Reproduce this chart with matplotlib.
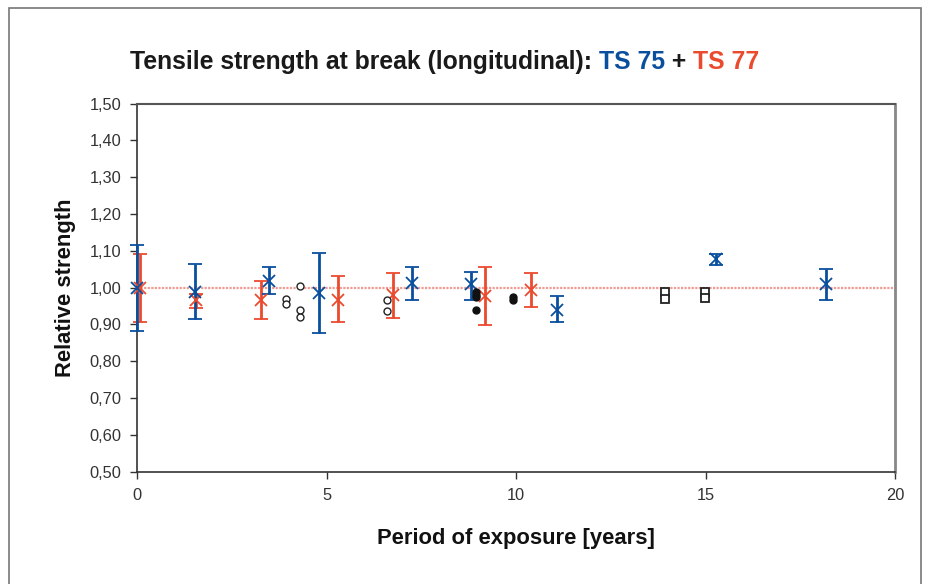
import matplotlib
matplotlib.use("Agg")
import matplotlib.pyplot as plt
from matplotlib.ticker import FuncFormatter, MultipleLocator
from matplotlib.patches import Rectangle

plt.rcParams['font.family'] = ['Liberation Sans', 'DejaVu Sans']

# TS 75 (blue) : x, mean, upper, lower
ts75_x = [0.0, 1.54, 3.49, 4.80, 7.25, 8.82, 11.07, 15.29, 18.17]
ts75_y = [1.000, 0.989, 1.019, 0.986, 1.013, 1.010, 0.938, 1.078, 1.010]
ts75_hi = [1.115, 1.065, 1.055, 1.095, 1.055, 1.043, 0.976, 1.092, 1.049]
ts75_lo = [0.881, 0.914, 0.983, 0.876, 0.967, 0.967, 0.905, 1.062, 0.965]

# TS 77 (red)
ts77_x = [0.08, 1.55, 3.26, 5.30, 6.76, 9.17, 10.40]
ts77_y = [1.000, 0.965, 0.965, 0.967, 0.980, 0.978, 0.994]
ts77_hi = [1.090, 0.983, 1.017, 1.031, 1.039, 1.055, 1.039]
ts77_lo = [0.906, 0.944, 0.914, 0.906, 0.917, 0.897, 0.948]

# single samples
open_circ_x = [3.94, 3.94, 4.30, 4.30, 4.30, 6.60, 6.60]
open_circ_y = [0.969, 0.955, 1.003, 0.940, 0.919, 0.965, 0.935]
fill_circ_x = [8.95, 8.95, 8.95, 8.95, 9.93, 9.93]
fill_circ_y = [0.987, 0.980, 0.974, 0.938, 0.975, 0.965]
open_sq_x = [13.94, 13.94, 14.98, 14.98]
open_sq_y = [0.988, 0.970, 0.989, 0.972]

BLUE = '#0a4f9e'
RED = '#ea4a2e'

fig = plt.figure(figsize=(9.36, 5.84), dpi=100)
fig.patch.set_facecolor('white')
fig.patches.append(Rectangle((9 / 936, -0.05), (921 - 9) / 936, 1.05 - 8 / 584,
                             transform=fig.transFigure, fill=False,
                             edgecolor='#777777', linewidth=1.2))

ax = fig.add_axes([137 / 936, 1 - 471.5 / 584, (895 - 137) / 936, (471.5 - 103.5) / 584])
ax.set_xlim(0, 20)
ax.set_ylim(0.5, 1.5)

ax.axhline(1.0, color='#f19a92', linestyle=(0, (1, 0.6)), linewidth=1.6, zorder=1)

def draw_series(xs, ys, hi, lo, color):
    yerr = [[y - l for y, l in zip(ys, lo)], [h - y for y, h in zip(ys, hi)]]
    ax.errorbar(xs, ys, yerr=yerr, fmt='x', color=color, ecolor=color,
                elinewidth=2.0, capsize=5, capthick=2.0, markersize=8.5,
                markeredgewidth=1.3, clip_on=False, zorder=3)

draw_series(ts77_x, ts77_y, ts77_hi, ts77_lo, RED)
draw_series(ts75_x, ts75_y, ts75_hi, ts75_lo, BLUE)

ax.plot(open_circ_x, open_circ_y, 'o', mfc='white', mec='#222222', ms=5, mew=1.0, ls='none', zorder=4)
ax.plot(fill_circ_x, fill_circ_y, 'o', mfc='#111111', mec='#111111', ms=5, ls='none', zorder=4)
ax.plot(open_sq_x, open_sq_y, 's', mfc='white', mec='#222222', ms=6, mew=1.3, ls='none', zorder=4)

ax.yaxis.set_major_locator(MultipleLocator(0.1))
ax.xaxis.set_major_locator(MultipleLocator(5))
ax.yaxis.set_major_formatter(FuncFormatter(lambda v, p: f"{v:.2f}".replace('.', ',')))
ax.tick_params(axis='both', direction='out', length=5, width=1.0, color='#333333',
               labelsize=11.8, labelcolor='#333333')
ax.tick_params(axis='y', pad=6)
ax.tick_params(axis='x', pad=7)

for s in ['left', 'bottom']:
    ax.spines[s].set_color('#333333')
    ax.spines[s].set_linewidth(1.2)
ax.spines['top'].set_color('#555555')
ax.spines['top'].set_linewidth(1.5)
ax.spines['right'].set_color('#888888')
ax.spines['right'].set_linewidth(2.0)

ax.set_xlabel('Period of exposure [years]', fontsize=15.8, fontweight='bold', labelpad=18, color='#111111')
ax.set_ylabel('Relative strength', fontsize=15.8, fontweight='bold', labelpad=10, color='#111111')

# multi-coloured title
parts = [('Tensile strength at break (longitudinal): ', '#1a1a1a'), ('TS 75', BLUE),
         (' + ', '#1a1a1a'), ('TS 77', RED)]
fig.canvas.draw()
renderer = fig.canvas.get_renderer()
x = 130
texts = []
for s, c in parts:
    t = fig.text(x / 936, 1 - 62 / 584, s, color=c, fontsize=17.8, fontweight='bold',
                 ha='left', va='center')
    bb = t.get_window_extent(renderer=renderer)
    x += bb.width
    texts.append(t)

fig.savefig('out.png', dpi=100, facecolor='white')
